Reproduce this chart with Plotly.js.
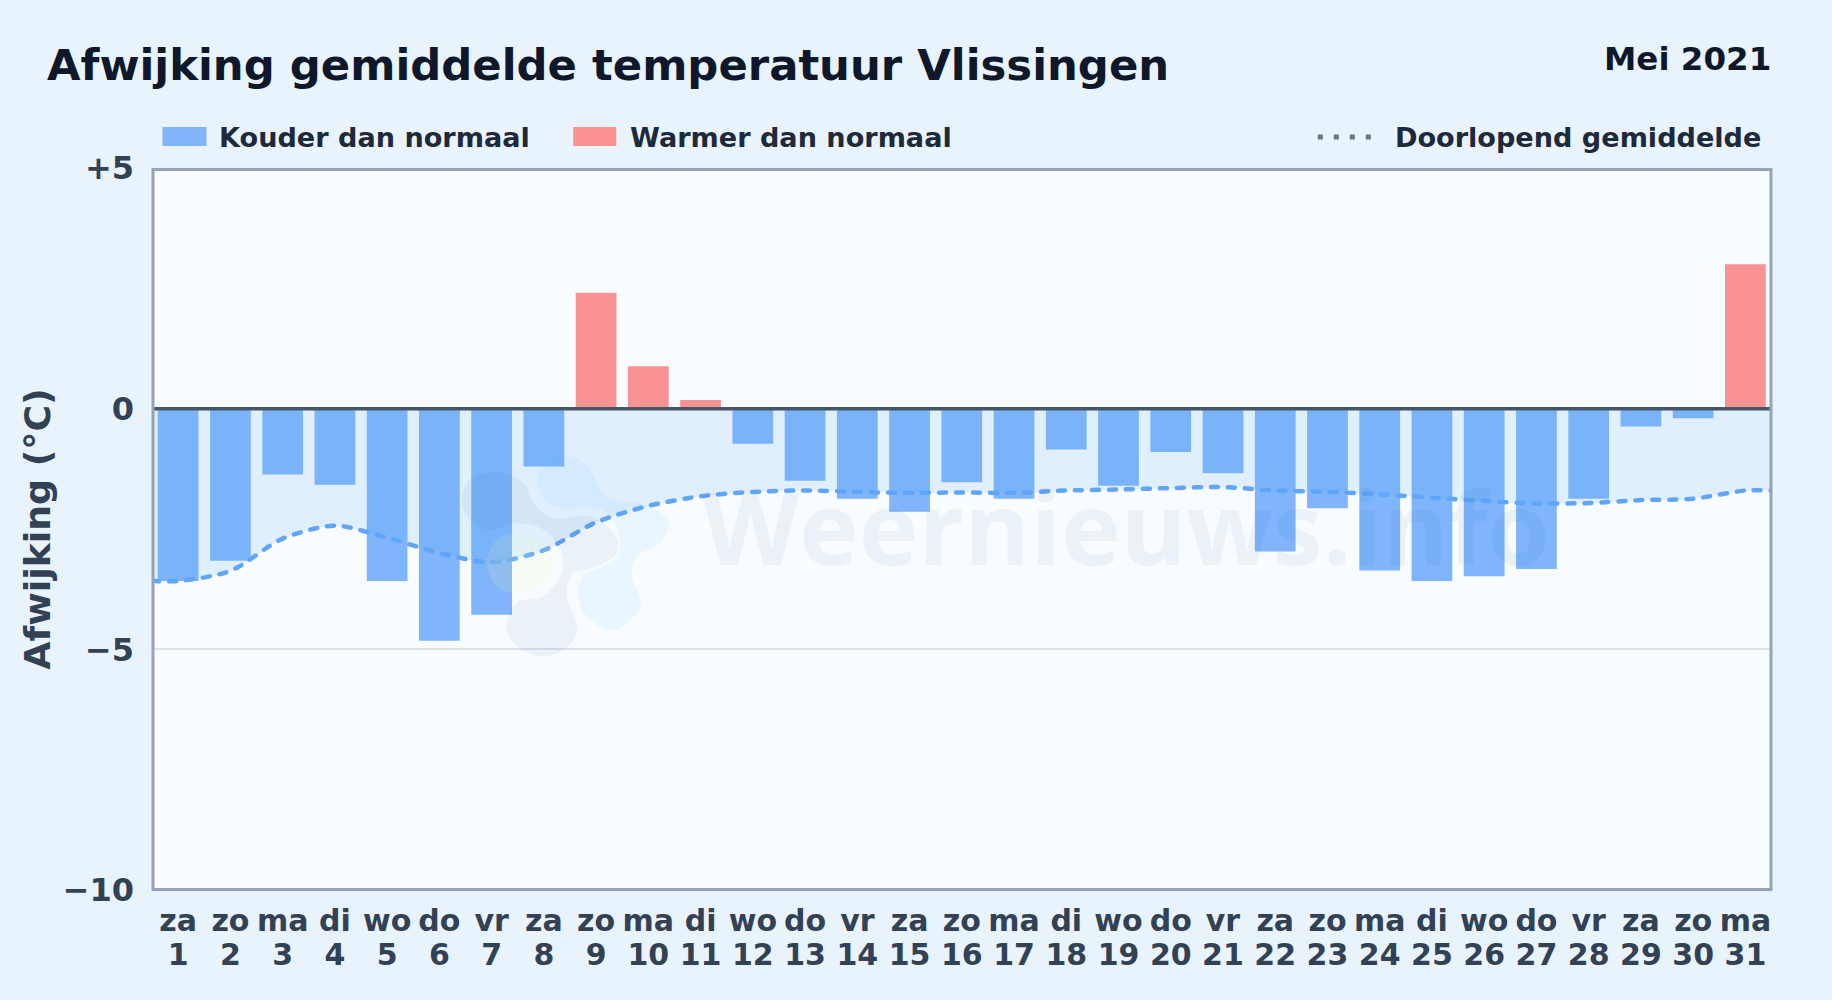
<!DOCTYPE html>
<html><head><meta charset="utf-8">
<script src="https://cdn.plot.ly/plotly-3.0.1.min.js"></script>
<style>
html,body{margin:0;padding:0;background:#e8f3fc;overflow:hidden}
.scatterlayer .js-line{stroke-linecap:round}
</style></head><body><div id="chart" style="width:1832px;height:1000px"></div>
<script>
const dayNames = ['za','zo','ma','di','wo','do','vr','za','zo','ma','di','wo','do','vr','za','zo','ma','di','wo','do','vr','za','zo','ma','di','wo','do','vr','za','zo','ma'];
const dayNumbers = [1,2,3,4,5,6,7,8,9,10,11,12,13,14,15,16,17,18,19,20,21,22,23,24,25,26,27,28,29,30,31];
const deviation = [-3.58,-3.16,-1.37,-1.58,-3.58,-4.82,-4.28,-1.2,2.41,0.88,0.18,-0.73,-1.5,-1.87,-2.14,-1.53,-1.87,-0.85,-1.6,-0.9,-1.34,-2.97,-2.07,-3.36,-3.58,-3.48,-3.33,-1.87,-0.37,-0.2,3.0];
const runningMean = [-3.58,-3.37,-2.7,-2.43,-2.68,-3.0,-3.19,-2.94,-2.36,-2.02,-1.82,-1.73,-1.7,-1.73,-1.75,-1.74,-1.75,-1.7,-1.68,-1.65,-1.63,-1.7,-1.73,-1.78,-1.85,-1.92,-1.97,-1.96,-1.9,-1.87,-1.7];
const yTicks = [5,0,-5,-10];
const yLabels = ['+5','0','\u22125','\u221210'];

const W=1832,H=1000,L=152.5,R=1771.5,T=168,B=890.5;
const px=x=>(x-L)/(R-L), py=y=>(B-y)/(B-T);
const FONT='"DejaVu Sans",sans-serif';
const idx=dayNames.map((_,i)=>i);
const cold=idx.filter(i=>deviation[i]<0), warm=idx.filter(i=>deviation[i]>=0);
const BLUE='#80b5fb',RED='#f99293';
const XRANGE=[-0.482,30.49];

function blob(pts){
  const n=pts.length;let d='M'+px(pts[0][0])+','+py(pts[0][1]);
  for(let i=0;i<n;i++){
    const p0=pts[(i-1+n)%n],p1=pts[i],p2=pts[(i+1)%n],p3=pts[(i+2)%n];
    const c1=[p1[0]+(p2[0]-p0[0])/6,p1[1]+(p2[1]-p0[1])/6],c2=[p2[0]-(p3[0]-p1[0])/6,p2[1]-(p3[1]-p1[1])/6];
    d+='C'+px(c1[0])+','+py(c1[1])+' '+px(c2[0])+','+py(c2[1])+' '+px(p2[0])+','+py(p2[1]);
  }
  return d+'Z';
}
const z=(a)=>a.map(p=>[430+p[0]/3,440+p[1]/3]);
const greyBlob=z([[95,170],[130,110],[220,100],[280,130],[310,190],[370,235],[480,230],[550,280],[560,340],[500,380],[430,400],[410,470],[440,570],[400,630],[330,650],[260,620],[228,560],[260,490],[340,470],[395,400],[390,330],[340,270],[260,250],[170,270],[110,230]]);
const blueBlob=z([[320,110],[350,65],[420,50],[475,85],[530,170],[640,195],[715,240],[690,310],[620,350],[605,410],[632,500],[550,572],[470,530],[445,470],[460,405],[520,380],[565,340],[560,260],[500,205],[400,205],[345,180]]);
const greenBlob=z([[170,370],[200,300],[270,280],[345,310],[372,370],[340,430],[270,460],[200,440]]);

const shapes=[
 {type:'path',xref:'paper',yref:'paper',layer:'above',path:blob(greyBlob),fillcolor:'rgba(40,90,140,0.065)',line:{width:0}},
 {type:'path',xref:'paper',yref:'paper',layer:'above',path:blob(blueBlob),fillcolor:'rgba(96,185,250,0.085)',line:{width:0}},
 {type:'path',xref:'paper',yref:'paper',layer:'above',path:blob(greenBlob),fillcolor:'rgba(235,245,170,0.14)',line:{width:0}},
 {type:'line',xref:'paper',x0:0,x1:1,yref:'y',y0:0,y1:0,layer:'above',line:{color:'#475569',width:3.5}},
 {type:'rect',xref:'paper',yref:'paper',layer:'above',x0:0,x1:1,y0:py(890),y1:py(169.5),line:{color:'#94a3b8',width:3}},
 {type:'rect',xref:'paper',yref:'paper',x0:px(162),x1:px(206),y0:py(127),y1:py(146),fillcolor:BLUE,line:{width:0}},
 {type:'rect',xref:'paper',yref:'paper',x0:px(573),x1:px(616),y0:py(127),y1:py(146),fillcolor:RED,line:{width:0}},
 {type:'line',xref:'paper',yref:'paper',x0:px(1318),x1:px(1372),y0:py(137),y1:py(137),line:{color:'#64748b',width:5,dash:'5px,11px'}}
];
const ann=(x,y,text,size,color,anchor)=>({xref:'paper',yref:'paper',x:px(x),y:py(y),text,showarrow:false,xanchor:anchor||'left',yanchor:'middle',font:{family:FONT,size,color,weight:700}});
const annotations=[
 ann(44,65,'Afwijking gemiddelde temperatuur Vlissingen',43.35,'#0f172a'),
 ann(1774,59,'Mei 2021',32.5,'#0f172a','right'),
 ann(216.7,137,'Kouder dan normaal',27.1,'#1e293b'),
 ann(627.7,137,'Warmer dan normaal',27.1,'#1e293b'),
 ann(1393.5,137,'Doorlopend gemiddelde',27.1,'#1e293b'),
 {xref:'paper',yref:'paper',x:px(1126),y:py(526),text:'Weernieuws.info',showarrow:false,xanchor:'center',yanchor:'middle',opacity:0.06,font:{family:'"Open Sans",sans-serif',size:100.7,color:'#1f5f96',weight:700}}
];
const traces=[
 {type:'bar',name:'Kouder dan normaal',x:cold,y:cold.map(i=>deviation[i]),width:0.78,marker:{color:BLUE,line:{width:0}},showlegend:false,hoverinfo:'skip'},
 {type:'bar',name:'Warmer dan normaal',x:warm,y:warm.map(i=>deviation[i]),width:0.78,marker:{color:RED,line:{width:0}},showlegend:false,hoverinfo:'skip'},
 {type:'scatter',mode:'lines',xaxis:'x2',name:'Doorlopend gemiddelde',x:[-0.5].concat(idx,[30.5]),y:[runningMean[0]].concat(runningMean,[runningMean[30]]),
  line:{color:'#60a5fa',width:4.5,shape:'spline',smoothing:0.8,dash:'7px,10px'},fill:'tozeroy',fillcolor:'rgba(90,170,250,0.15)',showlegend:false,hoverinfo:'skip'}
];
const tickFont={family:FONT,size:30,color:'#334155',weight:700};
const layout={
 width:W,height:H,paper_bgcolor:'#e8f3fc',plot_bgcolor:'#f8fcff',showlegend:false,barmode:'overlay',
 margin:{l:L,r:W-R,t:T,b:H-B,pad:0},
 font:{family:FONT},
 xaxis:{range:XRANGE,tickmode:'array',tickvals:idx,ticktext:dayNames,tickangle:0,ticks:'',showgrid:false,zeroline:false,showline:false,tickfont:tickFont,ticklabelstandoff:10,automargin:false},
 xaxis2:{overlaying:'x',side:'bottom',range:XRANGE,tickmode:'array',tickvals:idx,ticktext:dayNumbers.map(String),tickangle:0,ticks:'',showgrid:false,zeroline:false,showline:false,tickfont:tickFont,ticklabelstandoff:44,automargin:false},
 yaxis:{range:[-10,5],tickmode:'array',tickvals:yTicks,ticktext:yLabels,ticks:'',showgrid:true,gridcolor:'#dbe3ea',gridwidth:2,zeroline:false,showline:false,tickfont:{family:FONT,size:32,color:'#334155',weight:700},ticklabelstandoff:18,automargin:true,
  title:{text:'Afwijking (\u00b0C)',standoff:0,font:{family:FONT,size:36.3,color:'#334155',weight:700}}},
 shapes,annotations
};
Plotly.newPlot('chart',traces,layout,{displayModeBar:false,staticPlot:true});
</script></body></html>
